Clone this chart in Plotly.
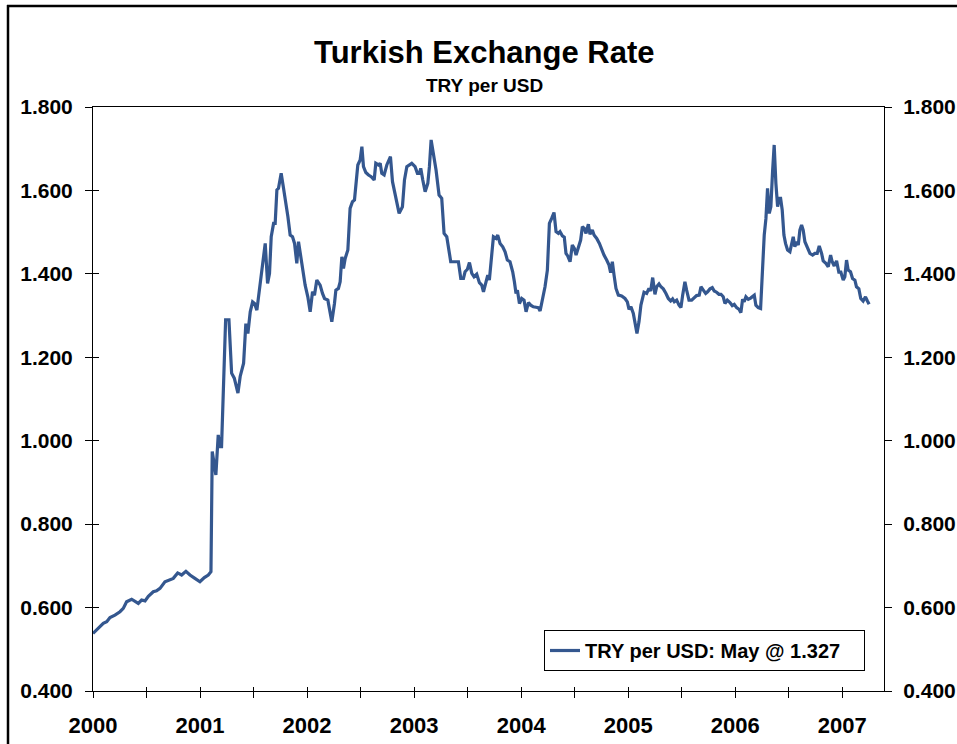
import plotly.graph_objects as go

# ---------------- data ----------------
years = [
    2000.000, 2000.034, 2000.065, 2000.096, 2000.128, 2000.159, 2000.205, 2000.252, 2000.283, 2000.314,
    2000.361, 2000.392, 2000.423, 2000.454, 2000.486, 2000.517, 2000.563, 2000.594, 2000.626, 2000.672,
    2000.719, 2000.750, 2000.791, 2000.828, 2000.868, 2000.906, 2000.952, 2000.999, 2001.040, 2001.077,
    2001.102, 2001.114, 2001.148, 2001.170, 2001.186, 2001.201, 2001.239, 2001.270, 2001.295, 2001.320,
    2001.354, 2001.375, 2001.407, 2001.428, 2001.447, 2001.469, 2001.491, 2001.509, 2001.531, 2001.553,
    2001.578, 2001.593, 2001.609, 2001.631, 2001.649, 2001.665, 2001.687, 2001.702, 2001.718, 2001.733,
    2001.758, 2001.780, 2001.796, 2001.821, 2001.842, 2001.864, 2001.883, 2001.904, 2001.920, 2001.936,
    2001.957, 2001.982, 2002.007, 2002.029, 2002.051, 2002.069, 2002.091, 2002.122, 2002.144, 2002.163,
    2002.194, 2002.216, 2002.231, 2002.256, 2002.269, 2002.293, 2002.309, 2002.325, 2002.340, 2002.356,
    2002.381, 2002.402, 2002.424, 2002.443, 2002.459, 2002.474, 2002.496, 2002.512, 2002.527, 2002.549,
    2002.574, 2002.599, 2002.627, 2002.642, 2002.667, 2002.683, 2002.698, 2002.720, 2002.745, 2002.767,
    2002.779, 2002.798, 2002.823, 2002.848, 2002.860, 2002.891, 2002.910, 2002.932, 2002.953, 2002.978,
    2003.009, 2003.031, 2003.050, 2003.062, 2003.081, 2003.103, 2003.128, 2003.143, 2003.159, 2003.180,
    2003.205, 2003.233, 2003.258, 2003.280, 2003.305, 2003.330, 2003.342, 2003.374, 2003.414, 2003.436,
    2003.461, 2003.476, 2003.498, 2003.517, 2003.539, 2003.560, 2003.585, 2003.610, 2003.632, 2003.648,
    2003.672, 2003.688, 2003.703, 2003.725, 2003.741, 2003.766, 2003.781, 2003.803, 2003.828, 2003.850,
    2003.871, 2003.896, 2003.921, 2003.937, 2003.952, 2003.965, 2003.984, 2004.005, 2004.027, 2004.046,
    2004.068, 2004.089, 2004.114, 2004.139, 2004.161, 2004.177, 2004.198, 2004.223, 2004.245, 2004.264,
    2004.285, 2004.307, 2004.326, 2004.348, 2004.363, 2004.385, 2004.403, 2004.419, 2004.435, 2004.457,
    2004.478, 2004.497, 2004.513, 2004.534, 2004.556, 2004.572, 2004.590, 2004.606, 2004.628, 2004.643,
    2004.665, 2004.681, 2004.706, 2004.731, 2004.752, 2004.774, 2004.799, 2004.821, 2004.836, 2004.852,
    2004.868, 2004.886, 2004.908, 2004.939, 2004.970, 2004.992, 2005.008, 2005.026, 2005.048, 2005.063,
    2005.082, 2005.101, 2005.119, 2005.148, 2005.173, 2005.194, 2005.210, 2005.229, 2005.250, 2005.266,
    2005.288, 2005.306, 2005.328, 2005.353, 2005.375, 2005.397, 2005.415, 2005.431, 2005.453, 2005.475,
    2005.493, 2005.509, 2005.530, 2005.546, 2005.568, 2005.593, 2005.614, 2005.639, 2005.664, 2005.680,
    2005.702, 2005.724, 2005.742, 2005.764, 2005.786, 2005.804, 2005.826, 2005.848, 2005.867, 2005.888,
    2005.904, 2005.926, 2005.951, 2005.972, 2005.991, 2006.013, 2006.035, 2006.053, 2006.069, 2006.084,
    2006.100, 2006.122, 2006.144, 2006.162, 2006.178, 2006.193, 2006.215, 2006.237, 2006.256, 2006.271,
    2006.287, 2006.302, 2006.318, 2006.333, 2006.349, 2006.364, 2006.380, 2006.396, 2006.411, 2006.424,
    2006.439, 2006.455, 2006.470, 2006.489, 2006.511, 2006.526, 2006.542, 2006.557, 2006.573, 2006.589,
    2006.604, 2006.620, 2006.635, 2006.651, 2006.673, 2006.698, 2006.723, 2006.744, 2006.766, 2006.785,
    2006.807, 2006.822, 2006.847, 2006.869, 2006.891, 2006.906, 2006.925, 2006.947, 2006.968, 2006.987,
    2007.009, 2007.024, 2007.040, 2007.055, 2007.077, 2007.096, 2007.118, 2007.133, 2007.155, 2007.173,
    2007.195, 2007.217, 2007.235, 2007.251,
]

try_per_usd = [
    0.538, 0.546, 0.555, 0.562, 0.566, 0.576, 0.582, 0.590, 0.598, 0.614,
    0.620, 0.614, 0.610, 0.618, 0.616, 0.627, 0.638, 0.640, 0.646, 0.662,
    0.666, 0.670, 0.683, 0.678, 0.687, 0.678, 0.670, 0.662, 0.672, 0.678,
    0.686, 0.974, 0.918, 1.014, 0.986, 0.986, 1.290, 1.290, 1.162, 1.150,
    1.114, 1.154, 1.186, 1.281, 1.257, 1.309, 1.333, 1.329, 1.313, 1.361,
    1.417, 1.453, 1.473, 1.377, 1.401, 1.489, 1.521, 1.521, 1.601, 1.605,
    1.641, 1.605, 1.581, 1.537, 1.493, 1.489, 1.473, 1.425, 1.477, 1.449,
    1.417, 1.373, 1.345, 1.309, 1.357, 1.349, 1.385, 1.373, 1.353, 1.341,
    1.337, 1.301, 1.285, 1.329, 1.361, 1.365, 1.381, 1.441, 1.413, 1.437,
    1.457, 1.557, 1.573, 1.577, 1.629, 1.661, 1.673, 1.705, 1.657, 1.643,
    1.637, 1.633, 1.625, 1.665, 1.661, 1.665, 1.641, 1.637, 1.661, 1.677,
    1.681, 1.621, 1.589, 1.557, 1.545, 1.561, 1.625, 1.657, 1.661, 1.665,
    1.657, 1.641, 1.641, 1.653, 1.625, 1.597, 1.617, 1.657, 1.721, 1.689,
    1.649, 1.589, 1.581, 1.497, 1.489, 1.449, 1.429, 1.429, 1.429, 1.389,
    1.389, 1.405, 1.411, 1.427, 1.401, 1.393, 1.399, 1.379, 1.373, 1.357,
    1.381, 1.397, 1.385, 1.449, 1.489, 1.485, 1.493, 1.473, 1.465, 1.453,
    1.433, 1.429, 1.405, 1.381, 1.353, 1.361, 1.329, 1.341, 1.337, 1.309,
    1.331, 1.325, 1.321, 1.320, 1.319, 1.311, 1.337, 1.369, 1.409, 1.521,
    1.533, 1.547, 1.501, 1.497, 1.501, 1.491, 1.488, 1.449, 1.443, 1.429,
    1.469, 1.461, 1.445, 1.465, 1.481, 1.513, 1.509, 1.497, 1.519, 1.495,
    1.505, 1.493, 1.485, 1.473, 1.457, 1.445, 1.433, 1.421, 1.403, 1.429,
    1.397, 1.365, 1.349, 1.347, 1.341, 1.333, 1.315, 1.321, 1.305, 1.285,
    1.257, 1.285, 1.325, 1.356, 1.353, 1.365, 1.359, 1.391, 1.351, 1.369,
    1.376, 1.369, 1.364, 1.353, 1.341, 1.335, 1.340, 1.333, 1.337, 1.325,
    1.319, 1.349, 1.381, 1.361, 1.337, 1.337, 1.343, 1.348, 1.349, 1.369,
    1.361, 1.353, 1.357, 1.364, 1.367, 1.359, 1.356, 1.351, 1.351, 1.345,
    1.329, 1.337, 1.331, 1.324, 1.327, 1.319, 1.315, 1.307, 1.339, 1.333,
    1.345, 1.339, 1.342, 1.345, 1.349, 1.325, 1.319, 1.317, 1.413, 1.493,
    1.533, 1.605, 1.545, 1.561, 1.645, 1.709, 1.617, 1.561, 1.581, 1.581,
    1.553, 1.493, 1.473, 1.457, 1.453, 1.469, 1.489, 1.465, 1.477, 1.469,
    1.505, 1.517, 1.505, 1.477, 1.465, 1.449, 1.445, 1.449, 1.449, 1.467,
    1.449, 1.431, 1.425, 1.417, 1.445, 1.429, 1.419, 1.431, 1.404, 1.404,
    1.385, 1.393, 1.433, 1.409, 1.405, 1.389, 1.385, 1.369, 1.364, 1.341,
    1.335, 1.345, 1.335, 1.327,
]

series_name = "TRY per USD: May @ 1.327"
chart_title = "Turkish Exchange Rate"
chart_subtitle = "TRY per USD"

year_labels = ["2000", "2001", "2002", "2003", "2004", "2005", "2006", "2007"]
half_year_ticks = [2000.0, 2000.5, 2001.0, 2001.5, 2002.0, 2002.5, 2003.0, 2003.5,
                   2004.0, 2004.5, 2005.0, 2005.5, 2006.0, 2006.5, 2007.0]
y_ticks = [0.4, 0.6, 0.8, 1.0, 1.2, 1.4, 1.6, 1.8]
y_tick_labels = ["0.400", "0.600", "0.800", "1.000", "1.200", "1.400", "1.600", "1.800"]

X_RANGE = [2000.0, 2007.39]
Y_RANGE = [0.4, 1.8]

# ---------------- styling ----------------
FONT = "Liberation Sans, Arial, sans-serif"
LINE_COLOR = "#34578F"
W, H = 957, 744
ML, MR, MT, MB = 93, 73, 107, 53
PW, PH = W - ML - MR, H - MT - MB


def px_x(p):
    return (p - ML) / PW


def px_y(p):
    return (H - MB - p) / PH


x_ticktext = []
for t in half_year_ticks:
    x_ticktext.append(year_labels[int(t) - 2000] if t == int(t) else "")

fig = go.Figure()
fig.add_trace(go.Scatter(
    x=years, y=try_per_usd, mode="lines", name=series_name,
    line=dict(color=LINE_COLOR, width=3.2),
    xaxis="x", yaxis="y",
))
# invisible copies so the secondary (tick-only / right-hand) axes are rendered
fig.add_trace(go.Scatter(
    x=years, y=try_per_usd, mode="lines", showlegend=False, hoverinfo="skip",
    opacity=0, line=dict(color=LINE_COLOR, width=0.1), xaxis="x2", yaxis="y2",
))
fig.add_trace(go.Scatter(
    x=years, y=try_per_usd, mode="lines", showlegend=False, hoverinfo="skip",
    opacity=0, line=dict(color=LINE_COLOR, width=0.1), xaxis="x", yaxis="y3",
))

common_axis = dict(showgrid=False, zeroline=False, tickcolor="black", tickwidth=1,
                   automargin=False, ticklabeloverflow="allow")

fig.update_layout(
    template="none",
    width=W, height=H, autosize=False,
    margin=dict(l=ML, r=MR, t=MT, b=MB, pad=0),
    paper_bgcolor="white", plot_bgcolor="white",
    font=dict(family=FONT, color="black"),
    showlegend=True,
    xaxis=dict(
        range=X_RANGE, tickmode="array", tickvals=half_year_ticks, ticktext=x_ticktext,
        ticks="outside", ticklen=6, showline=True, linecolor="black", linewidth=1,
        mirror=True, tickfont=dict(family=FONT, size=22, weight="bold", color="black"),
        ticklabelstandoff=9,
        **common_axis,
    ),
    xaxis2=dict(
        range=X_RANGE, overlaying="x", anchor="y", side="bottom",
        tickmode="array", tickvals=half_year_ticks, ticks="inside", ticklen=4,
        showticklabels=False, showline=False, **common_axis,
    ),
    yaxis=dict(
        range=Y_RANGE, tickmode="array", tickvals=y_ticks, ticktext=y_tick_labels,
        ticks="outside", ticklen=7, showline=True, linecolor="black", linewidth=1,
        mirror=True, tickfont=dict(family=FONT, size=21, weight="bold", color="black"),
        ticklabelstandoff=8,
        **common_axis,
    ),
    yaxis2=dict(
        range=Y_RANGE, overlaying="y", anchor="x2", side="right",
        tickmode="array", tickvals=y_ticks, ticktext=y_tick_labels,
        ticks="outside", ticklen=7, showline=True, linecolor="black", linewidth=1,
        tickfont=dict(family=FONT, size=21, weight="bold", color="black"),
        ticklabelstandoff=7,
        **common_axis,
    ),
    yaxis3=dict(
        range=Y_RANGE, overlaying="y", anchor="x", side="left",
        tickmode="array", tickvals=y_ticks, ticks="inside", ticklen=6,
        showticklabels=False, showline=False, **common_axis,
    ),
    legend=dict(
        x=px_x(544), y=px_y(630), xanchor="left", yanchor="top",
        orientation="h", entrywidth=274, entrywidthmode="pixels",
        bgcolor="white", bordercolor="black", borderwidth=1,
        font=dict(family=FONT, size=20, weight="bold", color="black"),
    ),
    annotations=[
        dict(text=chart_title, xref="paper", yref="paper", x=px_x(484.5), y=px_y(53),
             xanchor="center", yanchor="middle", showarrow=False,
             font=dict(family=FONT, size=31, weight="bold", color="black")),
        dict(text=chart_subtitle, xref="paper", yref="paper", x=px_x(484.5), y=px_y(86),
             xanchor="center", yanchor="middle", showarrow=False,
             font=dict(family=FONT, size=19, weight="bold", color="black")),
    ],
    shapes=[
        dict(type="line", xref="paper", yref="paper",
             x0=px_x(8), x1=px_x(8), y0=px_y(760), y1=px_y(5),
             line=dict(color="black", width=2.5), layer="above"),
        dict(type="line", xref="paper", yref="paper",
             x0=px_x(7), x1=px_x(980), y0=px_y(6), y1=px_y(6),
             line=dict(color="black", width=2.5), layer="above"),
    ],
)

fig.write_html("out.html", config={"displayModeBar": False},
               post_script="document.body.style.margin='0';")
